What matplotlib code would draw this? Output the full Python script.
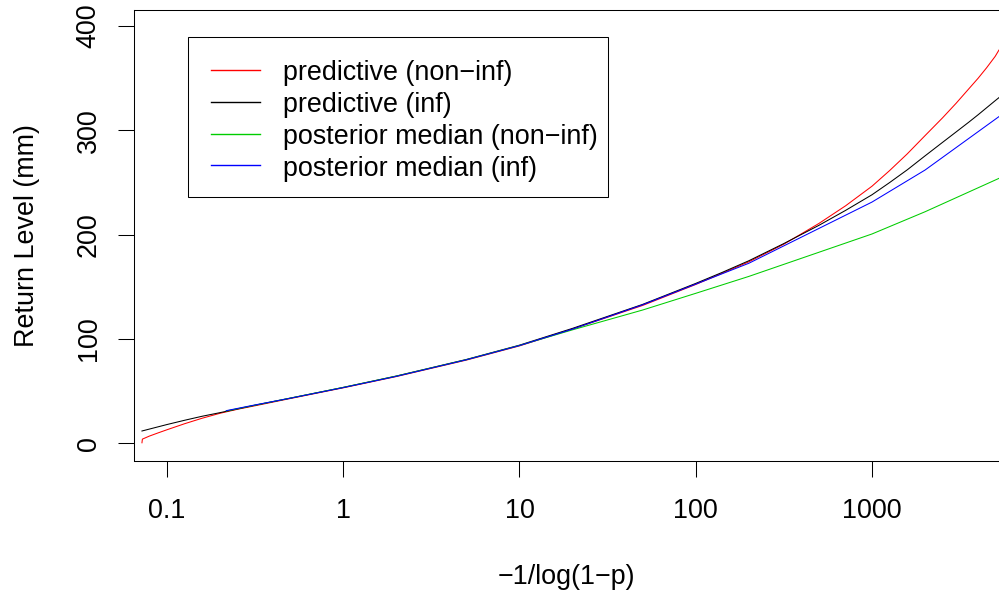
import matplotlib
matplotlib.use("Agg")
import matplotlib.pyplot as plt
from matplotlib.patches import Rectangle
from matplotlib.lines import Line2D
from matplotlib.ticker import NullLocator

plt.rcParams["font.family"] = ["Liberation Sans", "DejaVu Sans"]

# ---- return level curves, x = -1/log(1-p) ----
pred_noninf_x = [0.0721, 0.0725, 0.0794, 0.0891, 0.1, 0.126, 0.158, 0.2, 0.251, 0.316,
                 0.5, 1, 2, 5, 10, 20, 50, 100, 141, 200, 316, 500, 708, 1000, 1259,
                 1585, 2000, 2512, 3000, 3548, 4000, 4467, 5000, 5250]
pred_noninf_y = [0.5, 4.0, 6.9, 10.0, 13.0, 18.8, 24.0, 28.8, 32.6, 36.0,
                 42.9, 53.2, 64.0, 79.8, 93.4, 109.6, 132.2, 152.3, 163.0, 174.0, 190.9,
                 210.8, 227.7, 246.5, 261.5, 277.5, 295.0, 312.0, 326.0, 340.0, 350.0,
                 360.0, 371.0, 377.0]

pred_inf_x = [0.0721, 0.1, 0.126, 0.158, 0.2, 0.316, 0.5, 1, 2, 5, 10, 20, 50, 100,
              141, 200, 316, 500, 708, 1000, 1259, 1585, 2000, 2512, 3000, 3548, 4000,
              5000, 5250]
pred_inf_y = [11.8, 18.0, 22.1, 25.9, 29.4, 36.5, 43.3, 53.6, 64.5, 80.4, 94.1, 110.2,
              133.2, 153.3, 163.8, 175.0, 191.5, 209.0, 223.3, 238.3, 250.0, 262.2,
              275.6, 288.5, 298.5, 308.0, 315.0, 328.5, 331.4]

med_x = [0.217, 0.316, 0.5, 1, 2, 5, 10, 20, 50, 100, 200, 1000, 2000, 5250]
med_noninf_y = [31.0, 36.6, 43.3, 53.6, 64.4, 80.2, 93.8, 108.8, 127.8, 143.8, 160.0,
                200.7, 222.0, 254.0]
med_inf_y = [31.3, 36.8, 43.2, 53.4, 64.2, 80.1, 93.7, 109.5, 132.8, 152.6, 172.6,
             231.3, 262.0, 313.2]

series_labels = ["predictive (non\u2212inf)", "predictive (inf)",
                 "posterior median (non\u2212inf)", "posterior median (inf)"]
series_colors = ["#FF0000", "#000000", "#00CD00", "#0000FF"]

x_ticks = [0.1, 1, 10, 100, 1000]
x_ticklabels = ["0.1", "1", "10", "100", "1000"]
y_ticks = [0, 100, 200, 300, 400]

# ---- figure layout (pixels) ----
W, H = 999, 591
fig = plt.figure(figsize=(W / 100, H / 100), dpi=100)
fig.patch.set_facecolor("white")

ax_l, ax_r, ax_t, ax_b = 133.5, 1010.0, 10.0, 460.5
ax = fig.add_axes([ax_l / W, 1 - ax_b / H, (ax_r - ax_l) / W, (ax_b - ax_t) / H])

lw = 0.75
curves = [(pred_noninf_x, pred_noninf_y), (pred_inf_x, pred_inf_y),
          (med_x, med_noninf_y), (med_x, med_inf_y)]
for (xs, ys), c in zip(curves, series_colors):
    ax.plot(xs, ys, color=c, linewidth=lw)

ax.set_xscale("log")
ax.set_xlim(10 ** -1.19007, 10 ** 3.78298)
ax.set_ylim(-16.49, 415.44)

ax.set_xticks(x_ticks)
ax.set_xticklabels(x_ticklabels)
ax.xaxis.set_minor_locator(NullLocator())
ax.set_yticks(y_ticks)
ax.set_yticklabels([str(v) for v in y_ticks], rotation=90, va="center")

fs = 19.4
ax.tick_params(axis="both", direction="out", length=11.5, width=lw,
               labelsize=fs, colors="black")
ax.tick_params(axis="x", pad=15.5)
ax.tick_params(axis="y", pad=11.5)
for s in ax.spines.values():
    s.set_linewidth(lw)
    s.set_color("black")

ax.set_xlabel("\u22121/log(1\u2212p)", fontsize=fs)
ax.xaxis.set_label_coords((566 - ax_l) / (ax_r - ax_l), (ax_b - 577) / (ax_b - ax_t))
ax.xaxis.label.set_va("center")
ax.set_ylabel("Return Level (mm)", fontsize=fs)
ax.yaxis.set_label_coords((27 - ax_l) / (ax_r - ax_l), (ax_b - 236) / (ax_b - ax_t))
ax.yaxis.label.set_va("center")

# ---- legend box ----
def fx(px):
    return px / W

def fy(py):
    return 1 - py / H

lg_l, lg_r, lg_t, lg_b = 187.5, 607.5, 36.5, 196.5
fig.add_artist(Rectangle((fx(lg_l), fy(lg_b)), fx(lg_r) - fx(lg_l), fy(lg_t) - fy(lg_b),
                         transform=fig.transFigure, facecolor="white",
                         edgecolor="black", linewidth=lw, zorder=5))
row_y = [69.5, 101.5, 133.5, 165.5]
for ry, lab, c in zip(row_y, series_labels, series_colors):
    fig.add_artist(Line2D([fx(211), fx(259.5)], [fy(ry), fy(ry)], color=c,
                          linewidth=1.0, transform=fig.transFigure, zorder=6))
    fig.text(fx(283.3), fy(ry + 3), lab, fontsize=fs, va="center", ha="left", zorder=6)

fig.savefig("out.png", dpi=100)
